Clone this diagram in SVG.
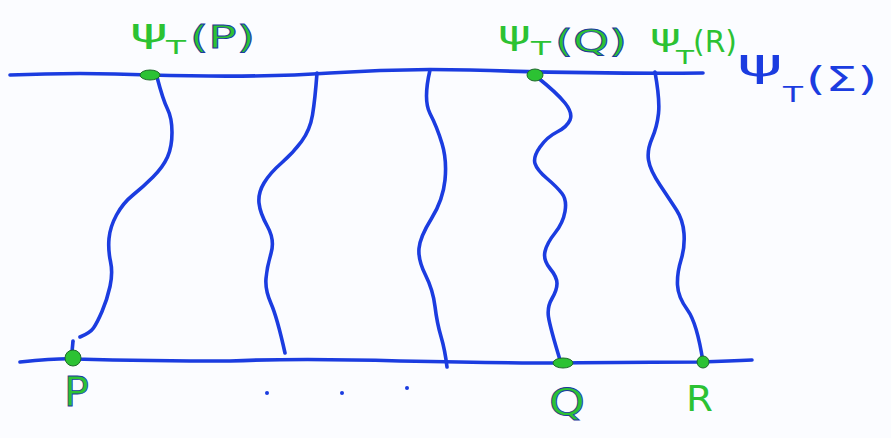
<svg xmlns="http://www.w3.org/2000/svg" width="891" height="438" viewBox="0 0 891 438">
<style>
.ln{fill:none;stroke:#1b3ce0;stroke-width:3.6;stroke-linecap:round;stroke-linejoin:round}
.g{fill:#2cc233;font-family:"DejaVu Sans",sans-serif}
.go{fill:#2cc233;stroke:#1d3a9a;stroke-width:0.8;font-family:"DejaVu Sans",sans-serif}
.b{fill:#1b3ce0;font-family:"DejaVu Sans",sans-serif}
.dot{fill:#2cc233;stroke:#1f6a2a;stroke-width:1}
</style>
<rect width="891" height="438" fill="#fbfcff"/>
<g id="connectors">
<path class="ln" d="M10,75 Q80,72 150,75 Q260,78 330,73 Q400,68 470,70 Q600,74 703,73"/>
<path class="ln" d="M20,362 Q60,358 75,359 Q150,361 230,361 Q300,358 400,361 Q500,363 560,363 Q640,362 700,362 Q730,361 752,360"/>
<path class="ln" d="M157,77 Q163,100 167.5,109 Q172,118 172,132.5 Q172,147 167.5,157 Q163,167 153,177 Q143,187 133,195 Q123,203 116.5,215 Q110,227 109,238.5 Q108,250 110.5,261.5 Q113,273 110,286.5 Q107,300 102,311.5 Q97,323 93.5,328 Q90,333 80,337"/>
<path class="ln" d="M73,341 L72,352"/>
<path class="ln" d="M317,73 Q315,100 312.5,115 Q310,130 301.5,141.5 Q293,153 281.5,163 Q270,173 264,183 Q258,193 259,203 Q260,213 267.5,226.5 Q275,240 271,253.5 Q267,267 266,278.5 Q265,290 271,303.5 Q277,317 285,353"/>
<path class="ln" d="M430,70 Q423,100 430,113.5 Q437,127 442,143.5 Q447,160 445,180 Q443,200 431.5,218.5 Q420,237 419,248.5 Q418,260 425.5,275 Q433,290 435,306.5 Q437,323 441,336.5 Q445,350 447,367"/>
<path class="ln" d="M537,77 Q557,93 565,103 Q573,113 570,120 Q567,127 557,132 Q547,137 540,147 Q533,157 535,163.5 Q537,170 547,178.5 Q557,187 562,193.5 Q567,200 565,211.5 Q563,223 555,233 Q547,243 545,251.5 Q543,260 550,268.5 Q557,277 557,283.5 Q557,290 552,298.5 Q547,307 548.5,317 Q550,327 560,360"/>
<path class="ln" d="M655,72 Q660,100 658.5,113.5 Q657,127 652,138.5 Q647,150 648.5,160 Q650,170 660,185 Q670,200 676.5,210 Q683,220 684,233.5 Q685,247 681,260 Q677,273 677.5,285 Q678,297 687.5,310 Q697,323 703,362"/>
<circle cx="267" cy="393" r="2" fill="#1b3ce0"/>
<circle cx="342" cy="393" r="2" fill="#1b3ce0"/>
<circle cx="407" cy="388" r="2" fill="#1b3ce0"/>
</g>
<g id="node-psiP">
<ellipse class="dot" cx="150" cy="75" rx="10" ry="5"/>
<text class="g" x="130" y="42" font-size="32" textLength="38" lengthAdjust="spacingAndGlyphs">ψ</text>
<text class="g" x="166" y="54" font-size="20" textLength="20" lengthAdjust="spacingAndGlyphs">T</text>
<text class="go" x="190" y="48" font-size="32" textLength="65" lengthAdjust="spacingAndGlyphs">(P)</text>
</g>
<g id="node-psiQ">
<ellipse class="dot" cx="535" cy="75" rx="8" ry="6"/>
<text class="g" x="498" y="44" font-size="32" textLength="33" lengthAdjust="spacingAndGlyphs">ψ</text>
<text class="g" x="531" y="55" font-size="20" textLength="20" lengthAdjust="spacingAndGlyphs">T</text>
<text class="go" x="555" y="52" font-size="32" textLength="72" lengthAdjust="spacingAndGlyphs">(Q)</text>
</g>
<g id="node-psiR">
<text class="g" x="650" y="46" font-size="30" textLength="31" lengthAdjust="spacingAndGlyphs">ψ</text>
<text class="g" x="676" y="64" font-size="20" textLength="18" lengthAdjust="spacingAndGlyphs">T</text>
<text class="g" x="693" y="52" font-size="30" textLength="44" lengthAdjust="spacingAndGlyphs">(R)</text>
</g>
<g id="node-psiSigma">
<text class="b" x="737" y="76" font-size="38" textLength="46" lengthAdjust="spacingAndGlyphs">ψ</text>
<text class="b" x="783" y="102" font-size="22" textLength="20" lengthAdjust="spacingAndGlyphs">T</text>
<text class="b" x="806" y="91" font-size="34" textLength="71" lengthAdjust="spacingAndGlyphs">(Σ)</text>
</g>
<g id="node-P">
<circle class="dot" cx="73" cy="358" r="8"/>
<text class="go" x="64" y="406" font-size="40" textLength="25" lengthAdjust="spacingAndGlyphs">P</text>
</g>
<g id="node-Q">
<ellipse class="dot" cx="563" cy="363" rx="10" ry="5"/>
<text class="go" x="549" y="415" font-size="38" textLength="36" lengthAdjust="spacingAndGlyphs">Q</text>
</g>
<g id="node-R">
<circle class="dot" cx="703" cy="362" r="6"/>
<text class="g" x="686" y="411" font-size="36" textLength="27" lengthAdjust="spacingAndGlyphs">R</text>
</g>
</svg>
